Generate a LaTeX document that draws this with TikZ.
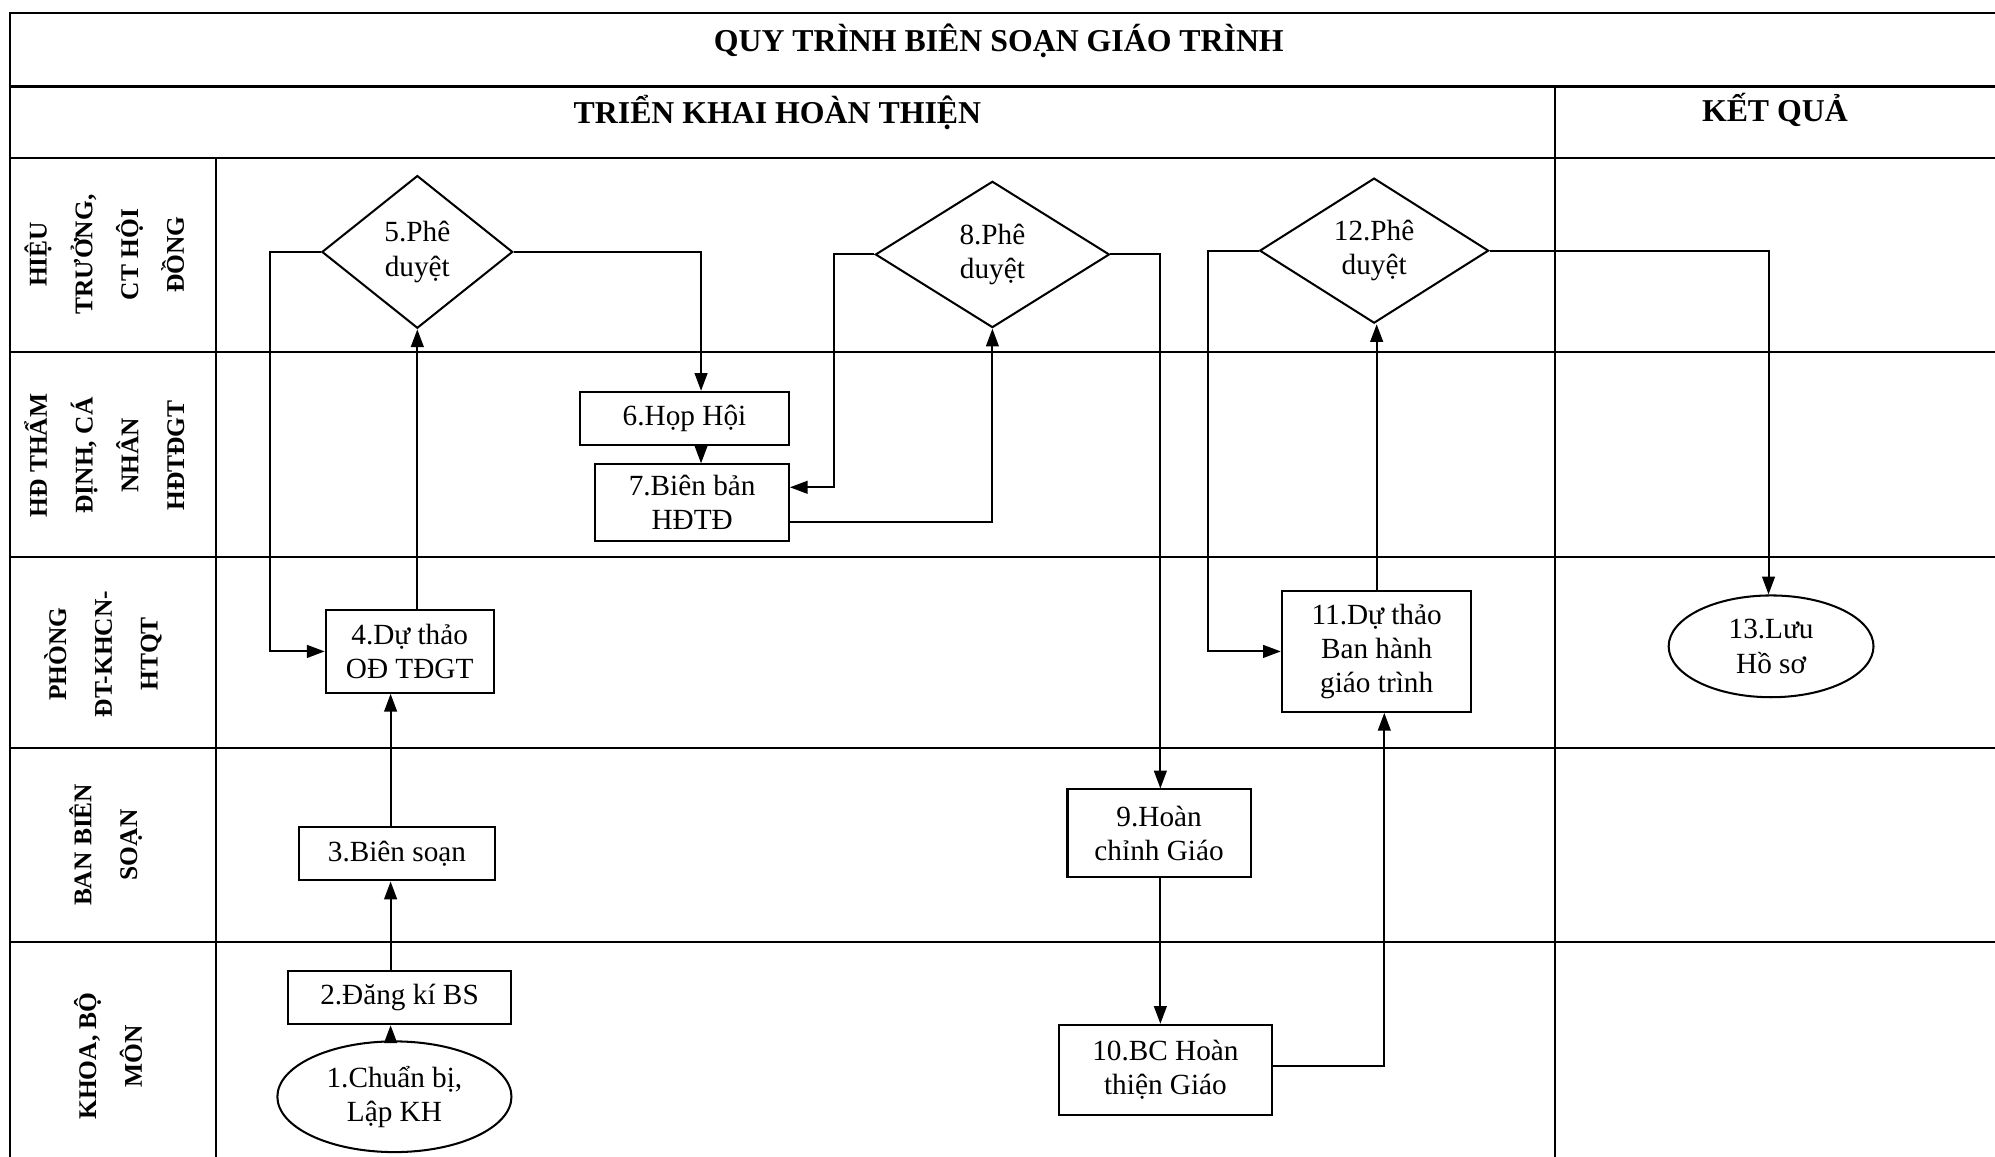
\documentclass[tikz,border=0pt]{standalone}
\usepackage{fontspec}
\setmainfont{Liberation Serif}
\usetikzlibrary{shapes.geometric,arrows.meta,calc}
\begin{document}
\begin{tikzpicture}[x=1pt,y=-1pt,
  gridline/.style={line width=1.6pt},
  flow/.style={line width=1.6pt,-{Triangle[length=14pt,width=10pt]}},
  nodefont/.style={font=\fontsize{23}{27}\selectfont},
  box/.style={draw,line width=1.6pt,rectangle,inner sep=0pt,align=center,nodefont},
  dec/.style={draw,line width=1.6pt,diamond,inner sep=0pt,align=center,nodefont},
  oval/.style={draw,line width=1.6pt,ellipse,inner sep=0pt,align=center,nodefont},
  lane/.style={rotate=90,align=center,font=\bfseries\fontsize{20}{36}\selectfont},
  head/.style={font=\bfseries\fontsize{25}{30}\selectfont}]

\useasboundingbox (0,0) rectangle (1568,909);

% ---- table grid ----
\draw[gridline] (1568,10) -- (8,10) -- (8,909);
\foreach \yy in {68,124,277,438,588,740}
  \draw[gridline] (8,\yy) -- (1568,\yy);
\draw[gridline] (170,124) -- (170,909);
\draw[gridline] (1222,68) -- (1222,909);

% ---- headers ----
\node[head] (title) at (785,32) {QUY TRÌNH BIÊN SOẠN GIÁO TRÌNH};
\node[head] (hdA) at (611,88) {TRIỂN KHAI HOÀN THIỆN};
\node[head] (hdB) at (1395,86) {KẾT QUẢ};

% ---- lane labels ----
\node[lane] (L1) at (82,200) {HIỆU\\TRƯỞNG,\\CT HỘI\\ĐỒNG};
\node[lane] (L2) at (82,358) {HĐ THẨM\\ĐỊNH, CÁ\\NHÂN\\HĐTĐGT};
\node[lane] (L3) at (81,514) {PHÒNG\\ĐT-KHCN-\\HTQT};
\node[lane] (L4) at (83,664) {BAN BIÊN\\SOẠN};
\node[lane] (L5) at (85,830) {KHOA, BỘ\\MÔN};

% ---- nodes ----
\node[dec,minimum width=150pt,minimum height=120pt] (d5) at (328,198) {5.Phê\\duyệt};
\node[dec,minimum width=184pt,minimum height=115pt] (d8) at (780,200) {8.Phê\\duyệt};
\node[dec,minimum width=180pt,minimum height=114pt] (d12) at (1080,197) {12.Phê\\duyệt};
\node[box,minimum width=164pt,minimum height=42pt] (b6) at (538,329) {6.Họp Hội};
\node[box,minimum width=152pt,minimum height=60pt] (b7) at (544,395) {7.Biên bản\\HĐTĐ};
\node[box,minimum width=132pt,minimum height=65pt] (b4) at (322,512) {4.Dự thảo\\OĐ TĐGT};
\node[box,minimum width=154pt,minimum height=42pt] (b3) at (312,671) {3.Biên soạn};
\node[box,minimum width=175pt,minimum height=42pt] (b2) at (314,784) {2.Đăng kí BS};
\node[oval,minimum width=184pt,minimum height=87pt] (e1) at (310,862) {1.Chuẩn bị,\\Lập KH};
\node[box,minimum width=144pt,minimum height=69pt] (b9) at (911,655) {9.Hoàn\\chỉnh Giáo};
\node[box,minimum width=168pt,minimum height=71pt] (b10) at (916,841) {10.BC Hoàn\\thiện Giáo};
\node[box,minimum width=149pt,minimum height=95pt] (b11) at (1082,512) {11.Dự thảo\\Ban hành\\giáo trình};
\node[oval,minimum width=161pt,minimum height=80pt] (e13) at (1392,508) {13.Lưu\\Hồ sơ};

% ---- connectors ----
\draw[flow] ([xshift=-3pt]e1.north) -- ([xshift=-3pt]e1.north |- b2.south);
\draw[flow] ([xshift=-3pt]e1.north |- b2.north) -- ([xshift=-3pt]e1.north |- b3.south);
\draw[flow] ([xshift=-3pt]e1.north |- b3.north) -- ([xshift=-3pt]e1.north |- b4.south);
\draw[flow] (d5.south |- b4.north) -- (d5.south);
\draw[flow] (d5.west) -- ++(-40,0) |- (b4.west);
\draw[flow] (d5.east) -| ([xshift=13pt]b6.north);
\draw[flow] ([xshift=13pt]b6.south) -- ([xshift=13pt]b6.south |- b7.north);
\draw[flow] ([yshift=-15pt]b7.east) -| (d8.south);
\draw[flow] (d8.west) -- ++(-32,0) |- ([yshift=12pt]b7.east);
\draw[flow] (d8.east) -| ([xshift=1pt]b9.north);
\draw[flow] ([xshift=1pt]b9.south) -- ([xshift=1pt]b9.south |- b10.north);
\draw[flow] ([yshift=3pt]b10.east) -| ([xshift=6pt]b11.south);
\draw[flow] (b11.north) -- (b11.north |- d12.south);
\draw[flow] (d12.west) -- ++(-40,0) |- (b11.west);
\draw[flow] (d12.east) -| ([xshift=-2pt]e13.north);
\end{tikzpicture}
\end{document}
